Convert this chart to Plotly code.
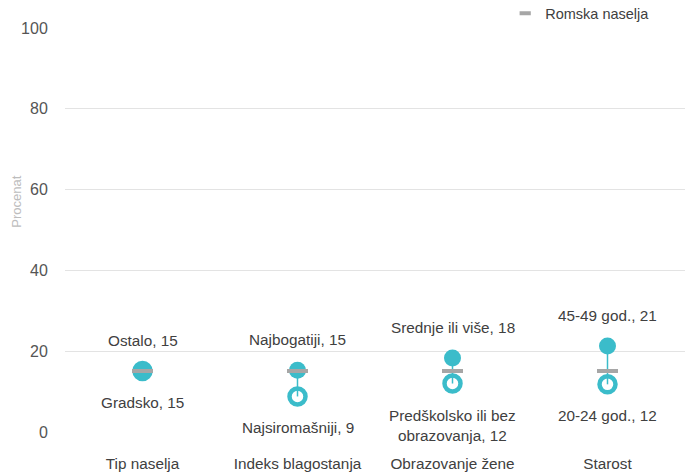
import plotly.graph_objects as go

categories = ["Tip naselja", "Indeks blagostanja", "Obrazovanje žene", "Starost"]
high_labels = ["Ostalo", "Najbogatiji", "Srednje ili više", "45-49 god."]
high_values = [15.2, 15.3, 18.3, 21.3]
low_labels = ["Gradsko", "Najsiromašniji", "Predškolsko ili bez<br>obrazovanja", "20-24 god."]
low_values = [15.1, 8.8, 12.0, 11.8]
roma_values = [15.1, 15.1, 15.1, 15.1]
y_ticks = [0, 20, 40, 60, 80, 100]

TEAL = "#3bbcca"
GRAY = "#a6a6a6"
TXT = "#404040"
FONT = "Liberation Sans, Arial, sans-serif"

fig = go.Figure()

fig.add_trace(go.Scatter(
    x=categories, y=low_values, mode="markers",
    marker=dict(symbol="circle", size=16, color="white", line=dict(color=TEAL, width=4.5)),
    showlegend=False, hoverinfo="skip"))

lx, ly = [], []
for c, h, l in zip(categories, high_values, low_values):
    lx += [c, c, None]
    ly += [h, l, None]
fig.add_trace(go.Scatter(x=lx, y=ly, mode="lines", line=dict(color=TEAL, width=1.5),
                         showlegend=False, hoverinfo="skip"))

fig.add_trace(go.Scatter(
    x=categories, y=high_values, mode="markers",
    marker=dict(symbol="circle", size=17, color=TEAL),
    showlegend=False, hoverinfo="skip"))

fig.add_trace(go.Scatter(
    x=categories, y=roma_values, mode="markers", name="Romska naselja",
    marker=dict(symbol="line-ew", size=15, color=GRAY, line=dict(color=GRAY, width=4)),
    showlegend=False, hoverinfo="skip"))

# legend entry (small dash symbol as in the reference)
fig.add_trace(go.Scatter(
    x=[None], y=[None], mode="markers", name="Romska naselja",
    marker=dict(symbol="line-ew", size=8, color=GRAY, line=dict(color=GRAY, width=4)),
    showlegend=True))

annotations = []
for c, lab, v in zip(categories, high_labels, high_values):
    annotations.append(dict(x=c, y=v, text=f"{lab}, {round(v)}", showarrow=False,
                            yanchor="bottom", yshift=20, font=dict(size=15.3, color=TXT, family=FONT)))
for c, lab, v in zip(categories, low_labels, low_values):
    annotations.append(dict(x=c, y=v, text=f"{lab}, {round(v)}", showarrow=False,
                            yanchor="top", yshift=-21, font=dict(size=15.3, color=TXT, family=FONT)))
annotations.append(dict(xref="paper", yref="y", x=0, xshift=-48, y=57, text="Procenat",
                        textangle=-90, showarrow=False, xanchor="center", yanchor="middle",
                        font=dict(size=13, color="#bdbdbd", family=FONT)))

fig.update_layout(
    width=685, height=474,
    margin=dict(l=65, r=0, t=28, b=42, autoexpand=False),
    paper_bgcolor="white", plot_bgcolor="white",
    font=dict(family=FONT, color=TXT, size=15),
    annotations=annotations,
    legend=dict(x=0.71, y=0.997, xanchor="left", yanchor="bottom", bgcolor="rgba(0,0,0,0)",
                font=dict(size=14.5, color=TXT, family=FONT), itemwidth=30,
                tracegroupgap=0),
    xaxis=dict(type="category", range=[-0.5, 3.5], showgrid=False, zeroline=False,
               showline=False, ticks="outside", ticklen=18, tickcolor="rgba(0,0,0,0)",
               tickfont=dict(size=15.3, color=TXT, family=FONT)),
    yaxis=dict(range=[0, 100], tickvals=y_ticks, showgrid=True, gridcolor="#e3e3e3",
               gridwidth=1, zeroline=False, showline=False, ticks="outside", ticklen=13,
               tickcolor="rgba(0,0,0,0)", tickfont=dict(size=16, color="#555555", family=FONT)),
)

fig.write_html("out.html", config={"displayModeBar": False},
               post_script="document.body.style.margin='0';document.body.style.overflow='hidden';")
